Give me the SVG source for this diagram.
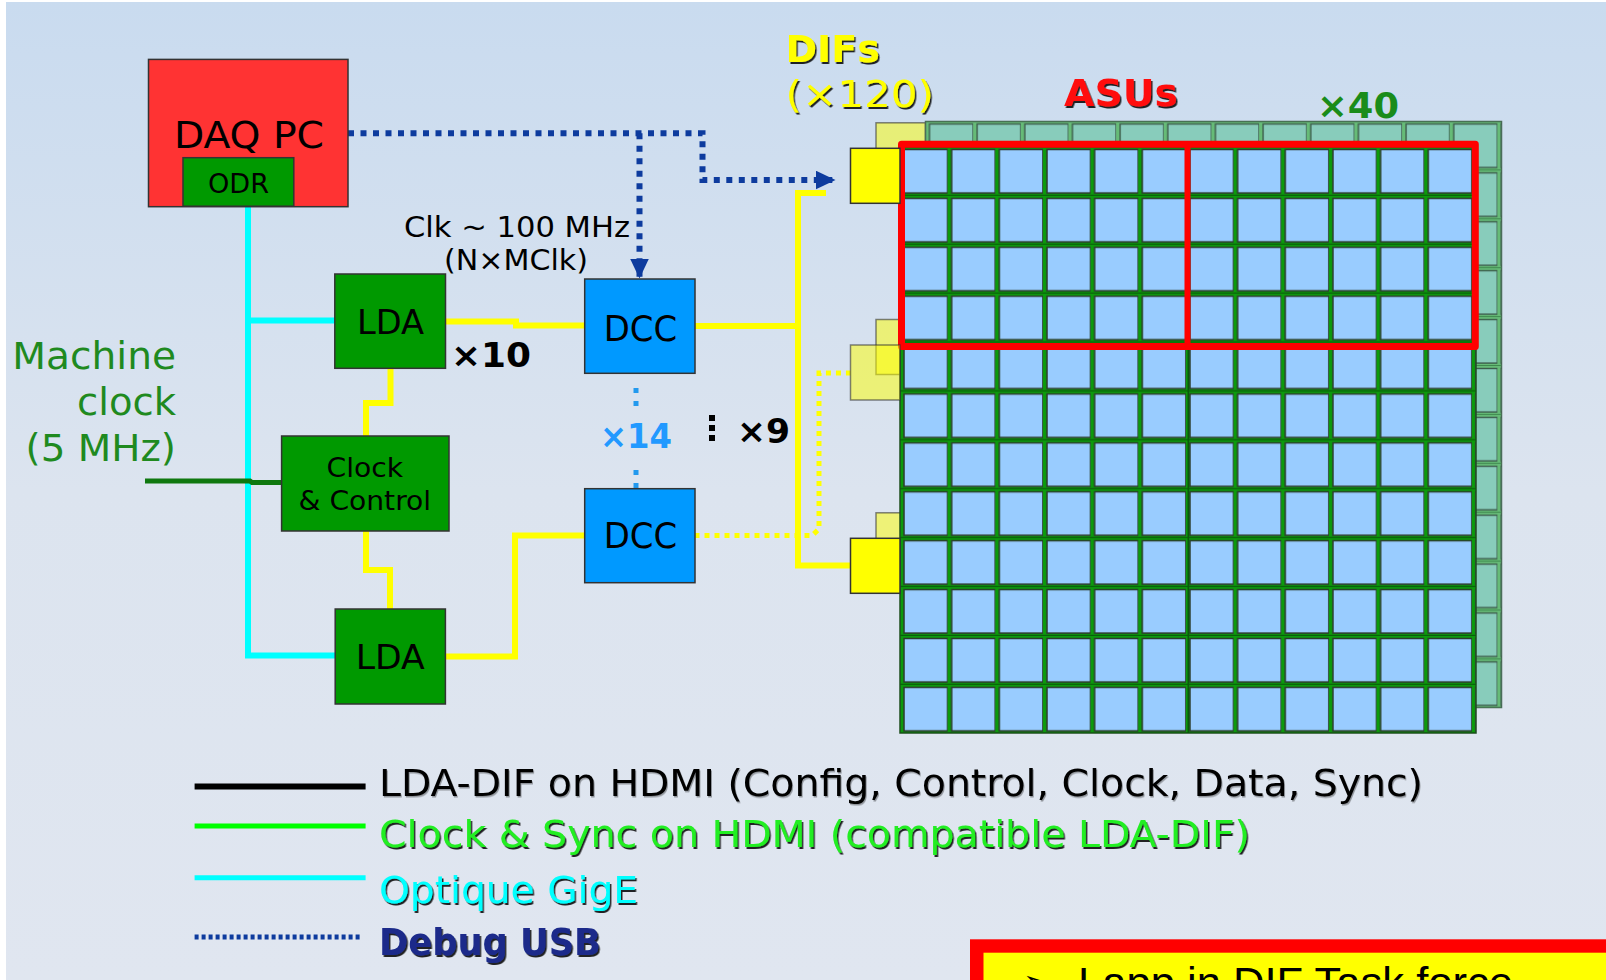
<svg xmlns="http://www.w3.org/2000/svg" width="1606" height="980" viewBox="0 0 1606 980">
<defs>
  <linearGradient id="bg" x1="0" y1="0" x2="0" y2="1">
    <stop offset="0" stop-color="#c9dbef"/>
    <stop offset="0.5" stop-color="#dce4ef"/>
    <stop offset="1" stop-color="#e0e6f0"/>
  </linearGradient>
  <filter id="shadow" x="-10%" y="-20%" width="130%" height="160%">
    <feDropShadow dx="1.5" dy="2" stdDeviation="0.6" flood-color="#000" flood-opacity="0.85"/>
  </filter>
  <filter id="softshadow" x="-5%" y="-20%" width="110%" height="160%">
    <feDropShadow dx="1" dy="1.5" stdDeviation="0.6" flood-color="#000" flood-opacity="0.35"/>
  </filter>
  <pattern id="asuFront" patternUnits="userSpaceOnUse" x="900" y="147" width="47.66" height="48.9">
    <rect x="4" y="2.5" width="43.6" height="43.5" fill="#99ccff" stroke="#2b3b2b" stroke-width="1.5"/>
    <line x1="0" y1="48.4" x2="47.66" y2="48.4" stroke="#0a5f0a" stroke-width="1.4"/>
  </pattern>
  <pattern id="asuBack" patternUnits="userSpaceOnUse" x="925.5" y="121.5" width="47.66" height="48.9">
    <rect x="4" y="2.5" width="43.6" height="43.5" fill="#88ccbb" stroke="#3c5c4c" stroke-width="1.4"/>
    <line x1="0" y1="48.4" x2="47.66" y2="48.4" stroke="#3f8a4f" stroke-width="1.2"/>
  </pattern>
  <marker id="arrowBlue" markerUnits="userSpaceOnUse" markerWidth="22" markerHeight="20" refX="20" refY="9.5" orient="auto">
    <path d="M0,0 L20,9.5 L0,19 Z" fill="#0d3b9e"/>
  </marker>
  <style>
    .box { stroke: #333; stroke-width: 1.5; }
    .green { fill: #009900; }
    .dcc { fill: #0099ff; }
    .lbl { font-family: "DejaVu Sans Condensed", "DejaVu Sans", sans-serif; font-stretch: condensed; fill: #000; }
    .wide { font-family: "DejaVu Sans", sans-serif; }
    .bold { font-weight: bold; }
    .cyan { fill: none; stroke: #00ffff; stroke-width: 6; }
    .yel { fill: none; stroke: #ffff00; stroke-width: 6; }
    .yeldot { fill: none; stroke: #ffff00; stroke-width: 5; stroke-dasharray: 5 5; }
    .usb { fill: none; stroke: #0d3b9e; stroke-width: 6; stroke-dasharray: 6 6.5; }
    .dif { fill: #ffff00; stroke: #333; stroke-width: 1.5; }
    .difpale { fill: #ffff00; fill-opacity: 0.5; stroke: #333; stroke-opacity: 0.6; stroke-width: 1.5; }
  </style>
</defs>

<rect x="0" y="0" width="1606" height="980" fill="#ffffff"/>
<rect x="6" y="2" width="1600" height="978" fill="url(#bg)"/>

<!-- back layer: DIFs and ASU grid -->
<g id="back-layer">
  <rect class="difpale" x="876" y="122.8" width="49.5" height="55"/>
  <rect class="difpale" x="876" y="319.5" width="49.5" height="55"/>
  <rect class="difpale" x="876" y="512.8" width="49.5" height="55"/>
  <rect x="925.5" y="121.5" width="576" height="586" fill="#66bb77" stroke="#4a6a55" stroke-width="1.5"/>
  <rect x="925.5" y="121.5" width="576" height="586" fill="url(#asuBack)"/>
</g>

<!-- connectors -->
<g id="connectors">
  <path class="cyan" d="M248,207 V655.5 H335"/>
  <path class="cyan" d="M248,320.5 H335"/>
  <path d="M145,481 H250 L252,482.5 H281.7" fill="none" stroke="#0f780f" stroke-width="5"/>
  <path class="yel" d="M444.5,321.5 H516 V325.5 H584.5"/>
  <path class="yel" d="M390.5,368 V403 H366 V436"/>
  <path class="yel" d="M366,531 V570 H390 V609"/>
  <path class="yel" d="M444.5,656.5 H515 V535.5 H584.5"/>
  <path class="yel" d="M694.5,326 H798"/>
  <path class="yel" d="M826,193 H798 V565.5 H850.5"/>
  <path class="yeldot" d="M694.5,535.5 H812 L819,529 V373 H850.5"/>
  <path class="usb" d="M348,133.3 H702.5 V180 H835.5" marker-end="url(#arrowBlue)"/>
  <path class="usb" d="M639.5,133.3 V278.5" marker-end="url(#arrowBlue)"/>
  <path d="M636,388 V408" fill="none" stroke="#2299ee" stroke-width="5" stroke-dasharray="5 8"/>
  <path d="M636,470 V489" fill="none" stroke="#2299ee" stroke-width="5" stroke-dasharray="5 8"/>
  <path d="M712,415 V444" fill="none" stroke="#000" stroke-width="6" stroke-dasharray="6 4"/>
</g>

<!-- nodes -->
<g id="daq-pc">
  <rect class="box" x="148.5" y="59.4" width="199.5" height="147.3" fill="#ff3333"/>
  <text class="lbl" x="249" y="148.3" font-size="38" text-anchor="middle" textLength="150" lengthAdjust="spacingAndGlyphs">DAQ PC</text>
</g>
<g id="odr">
  <rect class="box green" x="183" y="157.7" width="110.8" height="48.5"/>
  <text class="lbl" x="238.5" y="193.3" font-size="27" text-anchor="middle" textLength="61" lengthAdjust="spacingAndGlyphs">ODR</text>
</g>
<g id="lda-top">
  <rect class="box green" x="334.8" y="274" width="110.7" height="94.3"/>
  <text class="lbl" x="390.5" y="334.3" font-size="34" text-anchor="middle" textLength="67" lengthAdjust="spacingAndGlyphs">LDA</text>
</g>
<g id="clock-control">
  <rect class="box green" x="281.6" y="436" width="167.4" height="95"/>
  <text class="lbl" x="364.8" y="477.3" font-size="27" text-anchor="middle" textLength="76.5" lengthAdjust="spacingAndGlyphs">Clock</text>
  <text class="lbl" x="364.8" y="510" font-size="27" text-anchor="middle" textLength="132.5" lengthAdjust="spacingAndGlyphs">&amp; Control</text>
</g>
<g id="lda-bottom">
  <rect class="box green" x="335.2" y="609" width="110.2" height="95"/>
  <text class="lbl" x="390.3" y="669.3" font-size="34" text-anchor="middle" textLength="69" lengthAdjust="spacingAndGlyphs">LDA</text>
</g>
<g id="dcc-top">
  <rect class="box dcc" x="584.7" y="279" width="110.3" height="94.3"/>
  <text class="lbl" x="640.5" y="340.7" font-size="35" text-anchor="middle" textLength="73.5" lengthAdjust="spacingAndGlyphs">DCC</text>
</g>
<g id="dcc-bottom">
  <rect class="box dcc" x="584.7" y="488.7" width="110.3" height="94"/>
  <text class="lbl" x="640.5" y="548.3" font-size="35" text-anchor="middle" textLength="73.5" lengthAdjust="spacingAndGlyphs">DCC</text>
</g>

<g id="asu-grid">
  <rect x="900" y="147" width="576" height="586" fill="#0c9a0c" stroke="#1e4e1e" stroke-width="1.5"/>
  <rect x="900" y="147" width="576" height="586" fill="url(#asuFront)"/>
  <line x1="1188.3" y1="147" x2="1188.3" y2="733" stroke="#0a5a0a" stroke-width="1.6"/>
</g>
<g id="asu-group">
  <rect x="901.5" y="144.2" width="573.8" height="202.3" fill="none" stroke="#ff0000" stroke-width="7" stroke-linejoin="round"/>
  <line x1="1187.5" y1="144.2" x2="1187.5" y2="346.5" stroke="#ff0000" stroke-width="6"/>
</g>
<g id="dif-top">
  <rect class="dif" x="850.5" y="148.3" width="49.5" height="55"/>
</g>
<g id="dif-middle">
  <rect class="difpale" x="850.5" y="345" width="49.5" height="55"/>
</g>
<g id="dif-bottom">
  <rect class="dif" x="850.5" y="538.3" width="49.5" height="55"/>
</g>

<!-- labels -->
<g id="labels">
  <text class="wide bold" x="785.5" y="61.7" font-size="37" fill="#ffff00" filter="url(#shadow)" textLength="94.5" lengthAdjust="spacingAndGlyphs">DIFs</text>
  <text class="wide" x="785.5" y="107" font-size="38" fill="#ffff00" filter="url(#shadow)" textLength="148.5" lengthAdjust="spacingAndGlyphs">(×120)</text>
  <text class="wide bold" x="1064" y="105.5" font-size="38" fill="#ff1111" filter="url(#shadow)" textLength="114" lengthAdjust="spacingAndGlyphs">ASUs</text>
  <text class="wide bold" x="1317" y="118" font-size="35" fill="#1a8c1a" textLength="82" lengthAdjust="spacingAndGlyphs">×40</text>
  <text class="lbl" x="404" y="236.5" font-size="29" textLength="226" lengthAdjust="spacingAndGlyphs">Clk ~ 100 MHz</text>
  <text class="lbl" x="444" y="270" font-size="29" textLength="144" lengthAdjust="spacingAndGlyphs">(N×MClk)</text>
  <text class="wide bold" x="451" y="366.5" font-size="34" fill="#000" textLength="80" lengthAdjust="spacingAndGlyphs">×10</text>
  <text class="wide bold" x="600" y="448" font-size="34" fill="#2299ff" textLength="72" lengthAdjust="spacingAndGlyphs">×14</text>
  <text class="wide bold" x="737" y="442.7" font-size="33" fill="#000" textLength="53" lengthAdjust="spacingAndGlyphs">×9</text>
  <text class="wide" x="176" y="369" font-size="37" fill="#1f8a1f" text-anchor="end" textLength="163.7" lengthAdjust="spacingAndGlyphs">Machine</text>
  <text class="wide" x="176" y="415" font-size="37" fill="#1f8a1f" text-anchor="end" textLength="99" lengthAdjust="spacingAndGlyphs">clock</text>
  <text class="wide" x="176" y="461" font-size="37" fill="#1f8a1f" text-anchor="end" textLength="150.4" lengthAdjust="spacingAndGlyphs">(5 MHz)</text>
</g>

<!-- legend -->
<g id="legend">
  <path d="M194.6,786.6 H365.6" stroke="#000" stroke-width="6" fill="none"/>
  <path d="M194.6,826 H365.6" stroke="#00ff00" stroke-width="5" fill="none"/>
  <path d="M194.6,877.8 H365.6" stroke="#00ffff" stroke-width="5" fill="none"/>
  <path d="M194.6,937 H362" stroke="#0d3b9e" stroke-width="5" stroke-dasharray="4 3" fill="none"/>
  <text class="lbl" x="379" y="796" font-size="37.5" filter="url(#softshadow)" textLength="1044" lengthAdjust="spacingAndGlyphs">LDA-DIF on HDMI (Config, Control, Clock, Data, Sync)</text>
  <text class="lbl" x="379" y="847" font-size="37.5" style="fill:#22ee22" filter="url(#shadow)" textLength="871" lengthAdjust="spacingAndGlyphs">Clock &amp; Sync on HDMI (compatible LDA-DIF)</text>
  <text class="lbl" x="379" y="903" font-size="37.5" style="fill:#00ffff" filter="url(#shadow)" textLength="259" lengthAdjust="spacingAndGlyphs">Optique GigE</text>
  <text class="lbl bold" x="379" y="955" font-size="37.5" style="fill:#1a2a8a" filter="url(#shadow)" textLength="222" lengthAdjust="spacingAndGlyphs">Debug USB</text>
</g>

<!-- bottom-right note box -->
<g id="note">
  <rect x="970" y="939.3" width="700" height="100" fill="#ff0000"/>
  <rect x="983.5" y="952.7" width="700" height="100" fill="#ffff00"/>
  <text x="1022" y="997" font-size="40" font-family="DejaVu Sans, sans-serif" fill="#000">➢</text>
  <text x="1078" y="997" font-size="42" font-family="Liberation Sans, Arial, sans-serif" fill="#000" textLength="435" lengthAdjust="spacingAndGlyphs">Lapp in  DIF Task force</text>
</g>
</svg>
